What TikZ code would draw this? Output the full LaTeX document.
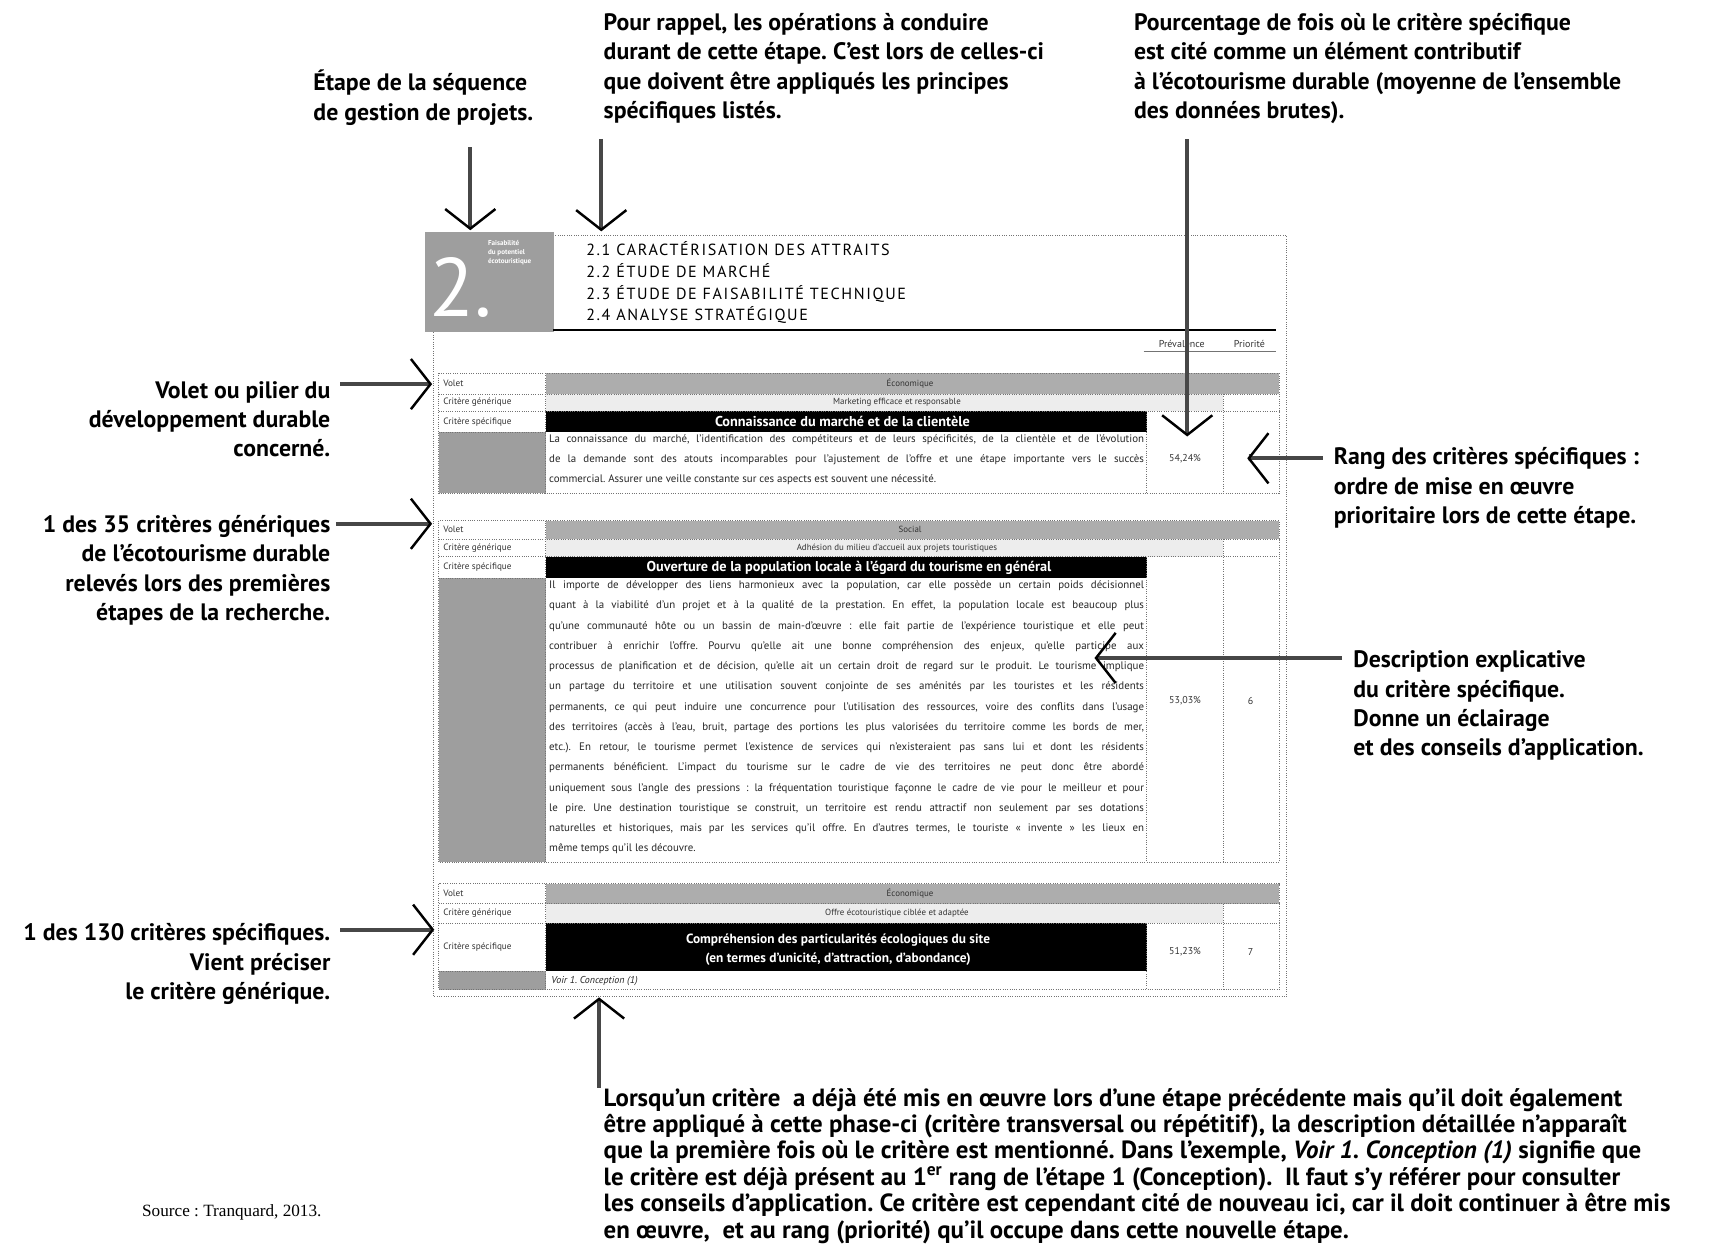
\documentclass[tikz,border=0pt]{standalone}
\usepackage{fontspec}
\setmainfont{PT Sans}
\newfontfamily\sourcefont{Liberation Serif}
\usetikzlibrary{arrows.meta,positioning}
\definecolor{BandGray}{gray}{0.68}
\definecolor{PaleGray}{gray}{0.93}
\definecolor{ColGray}{gray}{0.62}
\definecolor{RuleGray}{gray}{0.45}
\definecolor{InkGray}{gray}{0.28}
\frenchspacing

% frame of one criterion: top, generic row, specific row, description, bottom
\newcommand{\critframe}[5]{%
  \fill[BandGray] (500,#1) rectangle (1172,#2);
  \fill[PaleGray] (500,#2) rectangle (1121,#3);
  \fill[black] (500,#3) rectangle (1051,#4);
  \fill[ColGray] (402,#4) rectangle (500,#5);
  \draw[cell] (402,#1) rectangle (1172,#5)
    (402,#2) -- (1172,#2) (402,#3) -- (1172,#3) (402,#4) -- (500,#4)
    (500,#1) -- (500,#5) (1051,#3) -- (1051,#5) (1121,#2) -- (1121,#5);}

\begin{document}
\begin{tikzpicture}[x=0.025cm,y=-0.025cm,
  note/.style={font=\fontsize{15.5}{19.2}\selectfont\bfseries, inner sep=0pt},
  callout/.style={line width=2.6pt, InkGray,
    -{Straight Barb[length=0.45cm,width=1.15cm,line width=1.6pt,color=black]}},
  cell/.style={RuleGray, densely dotted, line width=0.5pt},
  lbl/.style={font=\fontsize{6}{7}\selectfont, anchor=west, inner sep=0pt, black!80},
  val/.style={font=\fontsize{5.8}{7}\selectfont, inner sep=0pt, black!80},
  num/.style={font=\fontsize{6.5}{7.5}\selectfont, inner sep=0pt, black!80},
  band/.style={font=\fontsize{9.3}{12}\selectfont\bfseries, white, inner sep=0pt, align=center},
  desc/.style={font=\fontsize{7.1}{13.2}\selectfont, text width=13.625cm, align=justify,
    anchor=north west, inner sep=0pt, black!85}]
\useasboundingbox (0,0) rectangle (1568,1143);

% explanations around the sheet
\node[note, anchor=north west, align=left] (etape) at (287,64)
  {Étape de la séquence\\de gestion de projets.};
\node[note, anchor=north west, align=left] (rappel) at (553,12)
  {Pour rappel, les opérations à conduire\\durant de cette étape. C'est lors de celles-ci\\que doivent être appliqués les principes\\spécifiques listés.};
\node[note, anchor=north west, align=left] (pourcent) at (1039,12)
  {Pourcentage de fois où le critère spécifique\\est cité comme un élément contributif\\à l'écotourisme durable (moyenne de l'ensemble\\des données brutes).};
\node[note, anchor=north east, align=right] (pilier) at (303,349)
  {Volet ou pilier du\\développement durable\\concerné.};
\node[note, anchor=north east, align=right] (generique) at (303,472)
  {1 des 35 critères génériques\\de l'écotourisme durable\\relevés lors des premières\\étapes de la recherche.};
\node[note, anchor=north east, align=right] (specifique) at (303,846)
  {1 des 130 critères spécifiques.\\Vient préciser\\le critère générique.};
\node[note, anchor=north west, align=left] (rang) at (1222,410)
  {Rang des critères spécifiques :\\ordre de mise en œuvre\\prioritaire lors de cette étape.};
\node[note, anchor=north west, align=left] (explic) at (1240,596)
  {Description explicative\\du critère spécifique.\\Donne un éclairage\\et des conseils d'application.};
\node[font=\fontsize{16.2}{17.2}\selectfont\bfseries, anchor=north west, align=left, inner sep=0pt] (renvoi) at (553,997)
  {Lorsqu'un critère\ \ a déjà été mis en œuvre lors d'une étape précédente mais qu'il doit également\\
   être appliqué à cette phase-ci (critère transversal ou répétitif), la description détaillée n'apparaît\\
   que la première fois où le critère est mentionné. Dans l'exemple, \textit{Voir 1. Conception (1)} signifie que\\
   le critère est déjà présent au 1\textsuperscript{er} rang de l'étape 1 (Conception).\ \ Il faut s'y référer pour consulter\\
   les conseils d'application. Ce critère est cependant cité de nouveau ici, car il doit continuer à être mis\\
   en œuvre,\ \ et au rang (priorité) qu'il occupe dans cette nouvelle étape.};
\node[font=\sourcefont\fontsize{11.2}{13}\selectfont, anchor=west, inner sep=0pt] (source) at (130,1111)
  {Source : Tranquard, 2013.};

% the sheet
\draw[cell] (397,216) rectangle (1179,913);
\node[fill=ColGray, minimum width=2.95cm, minimum height=2.3cm, anchor=north west, inner sep=0pt] (etapebox) at (389,212) {};
\node[font=\fontsize{54}{54}\selectfont, white, anchor=base west, inner sep=0pt] (etapenum) at (393,290) {2.};
\node[font=\fontsize{4.6}{6}\selectfont\bfseries, white, align=left, anchor=north west, inner sep=0pt] (etapenom) at (447,220)
  {Faisabilité\\du potentiel\\écotouristique};
\node[font=\fontsize{10.5}{14.2}\selectfont\addfontfeatures{LetterSpace=10}, anchor=north west, align=left, inner sep=0pt] (operations) at (537,221)
  {2.1 CARACTÉRISATION DES ATTRAITS\\2.2 ÉTUDE DE MARCHÉ\\2.3 ÉTUDE DE FAISABILITÉ TECHNIQUE\\2.4 ANALYSE STRATÉGIQUE};
\draw[line width=1.3pt] (507,302) -- (1169,302);
\node[num] (prevtete) at (1083,315) {Prévalence};
\node[num] (priotete) at (1145,315) {Priorité};
\draw[RuleGray, line width=0.6pt] (1048,322) -- (1169,322);

% criterion 1
\critframe{342}{361}{377}{396}{452}
\node[lbl] (s1volet) at (406,351.5) {Volet};
\node[lbl] (s1gen) at (406,369) {Critère générique};
\node[lbl] (s1spec) at (406,386.5) {Critère spécifique};
\node[val] (s1pilier) at (834,351.5) {Économique};
\node[val] (s1generique) at (822,369) {Marketing efficace et responsable};
\node[band] (s1titre) at (772,386.5) {Connaissance du marché et de la clientèle};
\node[desc] (s1texte) at (503,398)
  {La connaissance du marché, l'identification des compétiteurs et de leurs spécificités, de la clientèle et de l'évolution\linebreak
   de la demande sont des atouts incomparables pour l'ajustement de l'offre et une étape importante vers le succès\linebreak
   commercial. Assurer une veille constante sur ces aspects est souvent une nécessité.};
\node[num] (s1prev) at (1086,420) {54,24\%};
\node[num] (s1prio) at (1146,420) {5};

% criterion 2
\critframe{477}{494}{510}{530}{790}
\node[lbl] (s2volet) at (406,485.5) {Volet};
\node[lbl] (s2gen) at (406,502) {Critère générique};
\node[lbl] (s2spec) at (406,520) {Critère spécifique};
\node[val] (s2pilier) at (834,485.5) {Social};
\node[val] (s2generique) at (822,502) {Adhésion du milieu d'accueil aux projets touristiques};
\node[band] (s2titre) at (778,520) {Ouverture de la population locale à l'égard du tourisme en général};
\node[desc] (s2texte) at (503,532)
  {Il importe de développer des liens harmonieux avec la population, car elle possède un certain poids décisionnel\linebreak
   quant à la viabilité d'un projet et à la qualité de la prestation. En effet, la population locale est beaucoup plus\linebreak
   qu'une communauté hôte ou un bassin de main-d'œuvre : elle fait partie de l'expérience touristique et elle peut\linebreak
   contribuer à enrichir l'offre. Pourvu qu'elle ait une bonne compréhension des enjeux, qu'elle participe aux\linebreak
   processus de planification et de décision, qu'elle ait un certain droit de regard sur le produit. Le tourisme implique\linebreak
   un partage du territoire et une utilisation souvent conjointe de ses aménités par les touristes et les résidents\linebreak
   permanents, ce qui peut induire une concurrence pour l'utilisation des ressources, voire des conflits dans l'usage\linebreak
   des territoires (accès à l'eau, bruit, partage des portions les plus valorisées du territoire comme les bords de mer,\linebreak
   etc.). En retour, le tourisme permet l'existence de services qui n'existeraient pas sans lui et dont les résidents\linebreak
   permanents bénéficient. L'impact du tourisme sur le cadre de vie des territoires ne peut donc être abordé\linebreak
   uniquement sous l'angle des pressions : la fréquentation touristique façonne le cadre de vie pour le meilleur et pour\linebreak
   le pire. Une destination touristique se construit, un territoire est rendu attractif non seulement par ses dotations\linebreak
   naturelles et historiques, mais par les services qu'il offre. En d'autres termes, le touriste « invente » les lieux en\linebreak
   même temps qu'il les découvre.};
\node[num] (s2prev) at (1086,642) {53,03\%};
\node[num] (s2prio) at (1146,642) {6};

% criterion 3
\critframe{810}{828}{846}{890}{907}
\node[lbl] (s3volet) at (406,819) {Volet};
\node[lbl] (s3gen) at (406,837) {Critère générique};
\node[lbl] (s3spec) at (406,868) {Critère spécifique};
\node[val] (s3pilier) at (834,819) {Économique};
\node[val] (s3generique) at (822,837) {Offre écotouristique ciblée et adaptée};
\node[band, font=\fontsize{8.7}{12.2}\selectfont\bfseries] (s3titre) at (768,870)
  {Compréhension des particularités écologiques du site\\(en termes d'unicité, d'attraction, d'abondance)};
\node[font=\fontsize{6.5}{8}\selectfont\itshape, anchor=west, inner sep=0pt, black!85] (s3renvoi) at (505,899)
  {Voir 1. Conception (1)};
\node[num] (s3prev) at (1086,872) {51,23\%};
\node[num] (s3prio) at (1146,872) {7};

% arrows
\coordinate (etapeTip) at (431,211);
\coordinate (rappelTip) at (551,212);
\coordinate (prevTip) at (1088,400);
\coordinate (voletTip) at (396,352);
\coordinate (genTip) at (396,480);
\coordinate (specTip) at (398,852);
\coordinate (rangTip) at (1143,420);
\coordinate (explicTip) at (1003,603);
\coordinate (renvoiTip) at (549,914);
\draw[callout, shorten <=0.5cm] (etape.south -| etapeTip) -- (etapeTip);
\draw[callout, shorten <=0.34cm] (rappel.south -| rappelTip) -- (rappelTip);
\draw[callout, shorten <=0.34cm] (pourcent.south -| prevTip) -- (prevTip);
\draw[callout, shorten <=0.22cm] (voletTip -| pilier.east) -- (voletTip);
\draw[callout, shorten <=0.12cm] (genTip -| generique.east) -- (genTip);
\draw[callout, shorten <=0.22cm] (specTip -| specifique.east) -- (specTip);
\draw[callout, shorten <=0.25cm] (rangTip -| rang.west) -- (rangTip);
\draw[callout, shorten <=0.25cm] (explicTip -| explic.west) -- (explicTip);
\draw[callout] (renvoi.north -| renvoiTip) -- (renvoiTip);
\end{tikzpicture}
\end{document}
